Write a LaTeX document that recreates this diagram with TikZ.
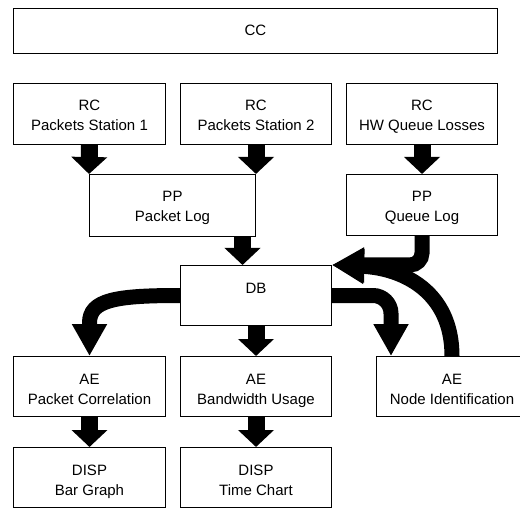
\documentclass[tikz,border=0pt]{standalone}
\usepackage{fontspec}
\setmainfont{Liberation Sans}
\usetikzlibrary{arrows.meta}
\newcommand\twolines[2]{\begin{tabular}[t]{@{}c@{}}#1\\#2\end{tabular}}
\begin{document}
\begin{tikzpicture}[x=1pt,y=-1pt,
  box/.style={draw, line width=1pt, inner sep=0pt, anchor=north west,
    minimum width=151pt, text height=27.5pt, text depth=32.5pt,
    font=\fontsize{15}{20}\selectfont},
  sarrow/.style={line width=17pt, -{Triangle[length=17pt,width=35pt]}},
  carrow/.style={line width=15pt, -{Triangle[length=32pt,width=33pt]}}]
\clip (0,0) rectangle (520,508);
% boxes
\node[box, minimum width=484pt, text height=27pt, text depth=18pt] (cc) at (13,8) {CC};
\node[box, minimum width=152pt, text depth=33.5pt] (rc1) at (13,83) {\twolines{RC}{Packets Station 1}};
\node[box, text depth=33.5pt] (rc2) at (180,83) {\twolines{RC}{Packets Station 2}};
\node[box, text depth=33.5pt] (rc3) at (346,83) {\twolines{RC}{HW Queue Losses}};
\node[box, minimum width=166pt, text depth=34.5pt] (pp1) at (89,174) {\twolines{PP}{Packet Log}};
\node[box, text depth=33.5pt] (pp2) at (346,174) {\twolines{PP}{Queue Log}};
\node[box] (db) at (180,265) {DB};
\node[box, minimum width=152pt] (ae1) at (13,356) {\twolines{AE}{Packet Correlation}};
\node[box] (ae2) at (180,356) {\twolines{AE}{Bandwidth Usage}};
\node[box] (ae3) at (376,356) {\twolines{AE}{Node Identification}};
\node[box, minimum width=152pt] (disp1) at (13,447) {\twolines{DISP}{Bar Graph}};
\node[box] (disp2) at (180,447) {\twolines{DISP}{Time Chart}};
% straight arrows
\draw[sarrow] (rc1.south) -- (pp1.north west);
\draw[sarrow] (rc2.south) -- (rc2.south |- pp1.north);
\draw[sarrow] (rc3.south) -- (pp2.north);
\draw[sarrow] ([xshift=70pt]pp1.south) -- ([xshift=-13.5pt]db.north);
\draw[sarrow] (db.south) -- (ae2.north);
\draw[sarrow] (ae1.south) -- (disp1.north);
\draw[sarrow] (ae2.south) -- (disp2.north);
% curved arrows
\draw[carrow] (db.west) .. controls +(-65,0) and +(0,-23) .. ([yshift=33pt]ae1.north) -- (ae1.north);
\draw[carrow, rounded corners=18pt] (db.east) -| ([xshift=15pt]ae3.north west);
\draw[carrow] (ae3.north) .. controls +(0,-65) and +(70,3) .. (db.north east);
\draw[carrow, rounded corners=12pt] (pp2.south) |- (db.north east);
\end{tikzpicture}
\end{document}
